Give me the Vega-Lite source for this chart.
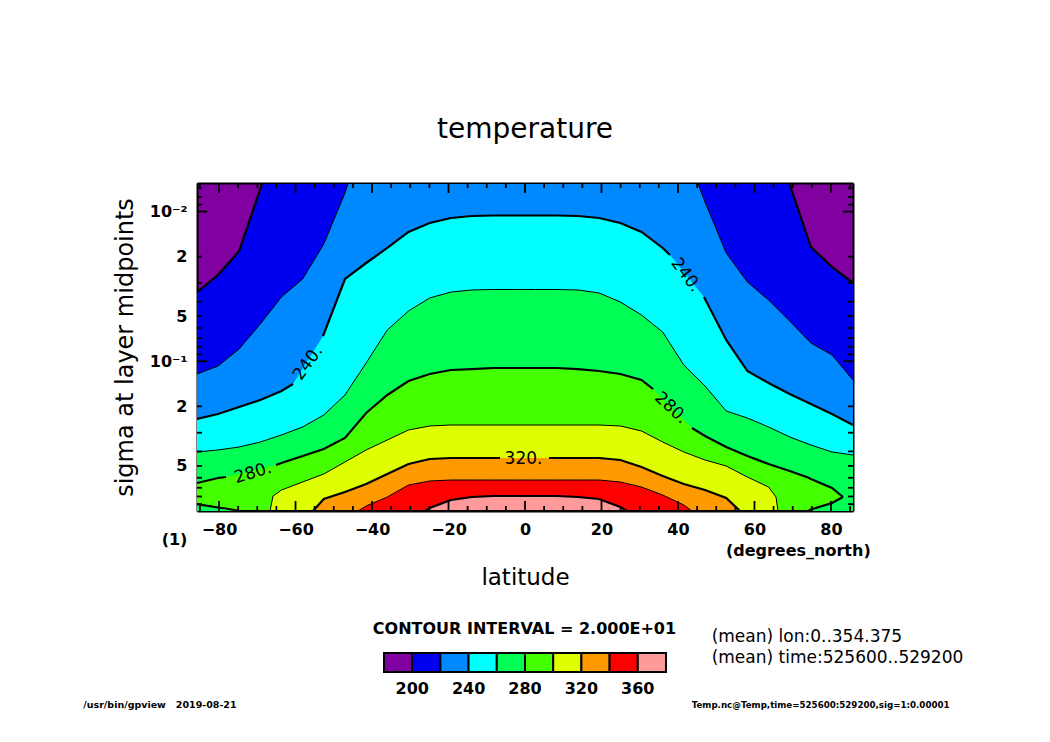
{
"$schema": "https://vega.github.io/schema/vega-lite/v6.json",
"width": 656, "height": 328,
"autosize": {"type": "none"},
"padding": {"left": 197, "top": 183, "right": 197, "bottom": 231},
"background": "white",
"config": {"view": {"fill": "#8000a0", "stroke": null}, "axis": {"grid": false}},
"title": {"text": "temperature", "font": "DejaVu Sans", "fontSize": 28, "fontWeight": "normal", "color": "black", "anchor": "middle", "baseline": "alphabetic", "offset": 16},
"datasets": {
"contours": [
{"lat": -85.76, "c": 200, "s": 0.0345}, {"lat": -80.27, "c": 200, "s": 0.02655}, {"lat": -74.75, "c": 200, "s": 0.01835}, {"lat": -69.21, "c": 200, "s": 0.00707}, {"lat": -68.69, "c": 200, "s": 0.00645}, {"lat": 69.1, "c": 200, "s": 0.00645}, {"lat": 74.75, "c": 200, "s": 0.01726}, {"lat": 80.27, "c": 200, "s": 0.02347}, {"lat": 85.76, "c": 200, "s": 0.03002},
{"lat": -85.76, "c": 220, "s": 0.1217}, {"lat": -80.27, "c": 220, "s": 0.1076}, {"lat": -74.75, "c": 220, "s": 0.0828}, {"lat": -69.21, "c": 220, "s": 0.05638}, {"lat": -63.68, "c": 220, "s": 0.03723}, {"lat": -58.14, "c": 220, "s": 0.02822}, {"lat": -52.61, "c": 220, "s": 0.01648}, {"lat": -47.07, "c": 220, "s": 0.00752}, {"lat": -46.2, "c": 220, "s": 0.00645}, {"lat": 45.15, "c": 220, "s": 0.00645}, {"lat": 47.07, "c": 220, "s": 0.008637}, {"lat": 52.61, "c": 220, "s": 0.01892}, {"lat": 58.14, "c": 220, "s": 0.02956}, {"lat": 63.68, "c": 220, "s": 0.03899}, {"lat": 69.21, "c": 220, "s": 0.05384}, {"lat": 74.75, "c": 220, "s": 0.07552}, {"lat": 80.27, "c": 220, "s": 0.0908}, {"lat": 85.76, "c": 220, "s": 0.1334},
{"lat": -85.76, "c": 240, "s": 0.243}, {"lat": -80.27, "c": 240, "s": 0.225}, {"lat": -74.75, "c": 240, "s": 0.202}, {"lat": -69.21, "c": 240, "s": 0.1814}, {"lat": -63.68, "c": 240, "s": 0.158}, {"lat": -60.66, "c": 240, "s": 0.1419},
{"lat": -52.81, "c": 240, "s": 0.06782, "seg": 1}, {"lat": -47.07, "c": 240, "s": 0.02822, "seg": 1}, {"lat": -41.53, "c": 240, "s": 0.02207, "seg": 1}, {"lat": -36.0, "c": 240, "s": 0.01752, "seg": 1}, {"lat": -30.46, "c": 240, "s": 0.0137, "seg": 1}, {"lat": -24.92, "c": 240, "s": 0.01193, "seg": 1}, {"lat": -19.38, "c": 240, "s": 0.01105, "seg": 1}, {"lat": -13.84, "c": 240, "s": 0.01071, "seg": 1}, {"lat": -8.31, "c": 240, "s": 0.01063, "seg": 1}, {"lat": -2.77, "c": 240, "s": 0.01063, "seg": 1}, {"lat": 2.77, "c": 240, "s": 0.01063, "seg": 1}, {"lat": 8.31, "c": 240, "s": 0.01063, "seg": 1}, {"lat": 13.84, "c": 240, "s": 0.01071, "seg": 1}, {"lat": 19.38, "c": 240, "s": 0.01105, "seg": 1}, {"lat": 24.92, "c": 240, "s": 0.01193, "seg": 1}, {"lat": 30.46, "c": 240, "s": 0.0137, "seg": 1}, {"lat": 36.0, "c": 240, "s": 0.01752, "seg": 1}, {"lat": 37.91, "c": 240, "s": 0.01951, "seg": 1},
{"lat": 46.8, "c": 240, "s": 0.03723, "seg": 2}, {"lat": 52.61, "c": 240, "s": 0.0721, "seg": 2}, {"lat": 58.14, "c": 240, "s": 0.1162, "seg": 2}, {"lat": 63.68, "c": 240, "s": 0.1397, "seg": 2}, {"lat": 69.21, "c": 240, "s": 0.1654, "seg": 2}, {"lat": 74.75, "c": 240, "s": 0.1929, "seg": 2}, {"lat": 80.27, "c": 240, "s": 0.225, "seg": 2}, {"lat": 85.76, "c": 240, "s": 0.2665, "seg": 2},
{"lat": -85.76, "c": 260, "s": 0.4036}, {"lat": -80.27, "c": 260, "s": 0.3914}, {"lat": -74.75, "c": 260, "s": 0.3738}, {"lat": -69.21, "c": 260, "s": 0.3461}, {"lat": -63.68, "c": 260, "s": 0.3107}, {"lat": -58.14, "c": 260, "s": 0.2748}, {"lat": -52.61, "c": 260, "s": 0.2285}, {"lat": -47.07, "c": 260, "s": 0.168}, {"lat": -41.53, "c": 260, "s": 0.1027}, {"lat": -36.0, "c": 260, "s": 0.06183}, {"lat": -30.46, "c": 260, "s": 0.04618}, {"lat": -24.92, "c": 260, "s": 0.0378}, {"lat": -19.38, "c": 260, "s": 0.0345}, {"lat": -13.84, "c": 260, "s": 0.03342}, {"lat": -8.31, "c": 260, "s": 0.03317}, {"lat": -2.77, "c": 260, "s": 0.03317}, {"lat": 2.77, "c": 260, "s": 0.03317}, {"lat": 8.31, "c": 260, "s": 0.03317}, {"lat": 13.84, "c": 260, "s": 0.03342}, {"lat": 19.38, "c": 260, "s": 0.035}, {"lat": 24.92, "c": 260, "s": 0.0402}, {"lat": 30.46, "c": 260, "s": 0.0491}, {"lat": 36.0, "c": 260, "s": 0.0638}, {"lat": 41.53, "c": 260, "s": 0.1059}, {"lat": 47.07, "c": 260, "s": 0.1463}, {"lat": 52.61, "c": 260, "s": 0.2149}, {"lat": 58.14, "c": 260, "s": 0.2393}, {"lat": 63.68, "c": 260, "s": 0.2748}, {"lat": 69.21, "c": 260, "s": 0.3204}, {"lat": 74.75, "c": 260, "s": 0.3624}, {"lat": 80.27, "c": 260, "s": 0.4036}, {"lat": 85.76, "c": 260, "s": 0.4227},
{"lat": -85.76, "c": 280, "s": 0.6502, "b": 0.8981}, {"lat": -80.27, "c": 280, "s": 0.6021, "b": 0.9476}, {"lat": -78.18, "c": 280, "s": 0.5928, "b": 0.9623},
{"lat": -74.75, "c": 280, "s": 0.5661, "b": 1, "seg": 9},
{"lat": -65.1, "c": 280, "s": 0.4929, "b": 1, "seg": 1}, {"lat": -63.68, "c": 280, "s": 0.478, "b": 1, "seg": 1}, {"lat": -58.14, "c": 280, "s": 0.4292, "b": 1, "seg": 1}, {"lat": -52.61, "c": 280, "s": 0.3854, "b": 1, "seg": 1}, {"lat": -47.07, "c": 280, "s": 0.3254, "b": 1, "seg": 1}, {"lat": -41.53, "c": 280, "s": 0.2216, "b": 1, "seg": 1}, {"lat": -36.0, "c": 280, "s": 0.168, "b": 1, "seg": 1}, {"lat": -30.46, "c": 280, "s": 0.1355, "b": 1, "seg": 1}, {"lat": -24.92, "c": 280, "s": 0.1217, "b": 1, "seg": 1}, {"lat": -19.38, "c": 280, "s": 0.1144, "b": 1, "seg": 1}, {"lat": -13.84, "c": 280, "s": 0.1127, "b": 1, "seg": 1}, {"lat": -8.31, "c": 280, "s": 0.1109, "b": 1, "seg": 1}, {"lat": -2.77, "c": 280, "s": 0.1109, "b": 1, "seg": 1}, {"lat": 2.77, "c": 280, "s": 0.1109, "b": 1, "seg": 1}, {"lat": 8.31, "c": 280, "s": 0.1109, "b": 1, "seg": 1}, {"lat": 13.84, "c": 280, "s": 0.1127, "b": 1, "seg": 1}, {"lat": 19.38, "c": 280, "s": 0.1162, "b": 1, "seg": 1}, {"lat": 24.92, "c": 280, "s": 0.1217, "b": 1, "seg": 1}, {"lat": 30.46, "c": 280, "s": 0.1334, "b": 1, "seg": 1}, {"lat": 33.47, "c": 280, "s": 0.1532, "b": 1, "seg": 1},
{"lat": 43.66, "c": 280, "s": 0.2791, "b": 1, "seg": 2}, {"lat": 47.07, "c": 280, "s": 0.3155, "b": 1, "seg": 2}, {"lat": 52.61, "c": 280, "s": 0.3738, "b": 1, "seg": 2}, {"lat": 58.14, "c": 280, "s": 0.4292, "b": 1, "seg": 2}, {"lat": 63.68, "c": 280, "s": 0.4854, "b": 1, "seg": 2}, {"lat": 69.21, "c": 280, "s": 0.5406, "b": 1, "seg": 2}, {"lat": 73.99, "c": 280, "s": 0.5975, "b": 1, "seg": 2}, {"lat": 74.75, "c": 280, "s": 0.6114, "b": 0.9772, "seg": 2}, {"lat": 80.27, "c": 280, "s": 0.7021, "b": 0.8842, "seg": 2}, {"lat": 83.14, "c": 280, "s": 0.8063, "b": 0.8063, "seg": 2},
{"lat": -66.67, "c": 300, "s": 1}, {"lat": -65.89, "c": 300, "s": 0.794}, {"lat": -63.68, "c": 300, "s": 0.7242}, {"lat": -58.14, "c": 300, "s": 0.6402}, {"lat": -52.61, "c": 300, "s": 0.5661}, {"lat": -47.07, "c": 300, "s": 0.4708}, {"lat": -41.53, "c": 300, "s": 0.3914}, {"lat": -36.0, "c": 300, "s": 0.3356}, {"lat": -30.46, "c": 300, "s": 0.2878}, {"lat": -24.92, "c": 300, "s": 0.2706}, {"lat": -19.38, "c": 300, "s": 0.2665}, {"lat": -13.84, "c": 300, "s": 0.2665}, {"lat": -8.31, "c": 300, "s": 0.2665}, {"lat": -2.77, "c": 300, "s": 0.2665}, {"lat": 2.77, "c": 300, "s": 0.2665}, {"lat": 8.31, "c": 300, "s": 0.2665}, {"lat": 13.84, "c": 300, "s": 0.2665}, {"lat": 19.38, "c": 300, "s": 0.2665}, {"lat": 24.92, "c": 300, "s": 0.2706}, {"lat": 30.46, "c": 300, "s": 0.2922}, {"lat": 36.0, "c": 300, "s": 0.3461}, {"lat": 41.53, "c": 300, "s": 0.4036}, {"lat": 47.07, "c": 300, "s": 0.4565}, {"lat": 52.61, "c": 300, "s": 0.5006}, {"lat": 58.14, "c": 300, "s": 0.5928}, {"lat": 63.68, "c": 300, "s": 0.6914}, {"lat": 65.63, "c": 300, "s": 0.8063}, {"lat": 66.15, "c": 300, "s": 1},
{"lat": -55.43, "c": 320, "s": 1}, {"lat": -52.61, "c": 320, "s": 0.8315}, {"lat": -47.07, "c": 320, "s": 0.7466}, {"lat": -41.53, "c": 320, "s": 0.6603}, {"lat": -36.0, "c": 320, "s": 0.5661}, {"lat": -30.46, "c": 320, "s": 0.4854}, {"lat": -24.92, "c": 320, "s": 0.4495}, {"lat": -19.38, "c": 320, "s": 0.4427}, {"lat": -13.84, "c": 320, "s": 0.4427}, {"lat": -8.31, "c": 320, "s": 0.4427}, {"lat": -6.54, "c": 320, "s": 0.4427},
{"lat": 6.27, "c": 320, "s": 0.4427, "seg": 1}, {"lat": 8.31, "c": 320, "s": 0.4427, "seg": 1}, {"lat": 13.84, "c": 320, "s": 0.4427, "seg": 1}, {"lat": 19.38, "c": 320, "s": 0.4427, "seg": 1}, {"lat": 24.92, "c": 320, "s": 0.4565, "seg": 1}, {"lat": 30.46, "c": 320, "s": 0.5084, "seg": 1}, {"lat": 36.0, "c": 320, "s": 0.5839, "seg": 1}, {"lat": 41.53, "c": 320, "s": 0.6603, "seg": 1}, {"lat": 47.07, "c": 320, "s": 0.7242, "seg": 1}, {"lat": 52.61, "c": 320, "s": 0.8189, "seg": 1}, {"lat": 56.21, "c": 320, "s": 1, "seg": 1},
{"lat": -43.66, "c": 340, "s": 1}, {"lat": -41.53, "c": 340, "s": 0.926}, {"lat": -36.0, "c": 340, "s": 0.8063}, {"lat": -30.46, "c": 340, "s": 0.6706}, {"lat": -24.92, "c": 340, "s": 0.6306}, {"lat": -19.38, "c": 340, "s": 0.6209}, {"lat": -13.84, "c": 340, "s": 0.6209}, {"lat": -8.31, "c": 340, "s": 0.6209}, {"lat": -2.77, "c": 340, "s": 0.6209}, {"lat": 2.77, "c": 340, "s": 0.6209}, {"lat": 8.31, "c": 340, "s": 0.6209}, {"lat": 13.84, "c": 340, "s": 0.6209}, {"lat": 19.38, "c": 340, "s": 0.6209}, {"lat": 24.92, "c": 340, "s": 0.6402}, {"lat": 30.46, "c": 340, "s": 0.6914}, {"lat": 36.0, "c": 340, "s": 0.7822}, {"lat": 41.53, "c": 340, "s": 0.9117}, {"lat": 43.66, "c": 340, "s": 1},
{"lat": -26.15, "c": 360, "s": 1}, {"lat": -24.92, "c": 360, "s": 0.955}, {"lat": -19.38, "c": 360, "s": 0.8443}, {"lat": -13.84, "c": 360, "s": 0.8063}, {"lat": -8.31, "c": 360, "s": 0.794}, {"lat": -2.77, "c": 360, "s": 0.794}, {"lat": 2.77, "c": 360, "s": 0.794}, {"lat": 8.31, "c": 360, "s": 0.794}, {"lat": 13.84, "c": 360, "s": 0.8063}, {"lat": 19.38, "c": 360, "s": 0.8315}, {"lat": 24.92, "c": 360, "s": 0.9404}, {"lat": 26.67, "c": 360, "s": 1}
],
"labels": [
{"lat": -56.74, "s": 0.1027, "t": "240."},
{"lat": 42.09, "s": 0.02655, "t": "240."},
{"lat": -71.12, "s": 0.5575, "t": "280."},
{"lat": 38.17, "s": 0.2051, "t": "280."},
{"lat": -0.39, "s": 0.4461, "t": "320."}
],
"xmaj": [{"v": -80}, {"v": -60}, {"v": -40}, {"v": -20}, {"v": 0}, {"v": 20}, {"v": 40}, {"v": 60}, {"v": 80}],
"xmin": [{"v": -85}, {"v": -75}, {"v": -70}, {"v": -65}, {"v": -55}, {"v": -50}, {"v": -45}, {"v": -35}, {"v": -30}, {"v": -25}, {"v": -15}, {"v": -10}, {"v": -5}, {"v": 5}, {"v": 10}, {"v": 15}, {"v": 25}, {"v": 30}, {"v": 35}, {"v": 45}, {"v": 50}, {"v": 55}, {"v": 65}, {"v": 70}, {"v": 75}, {"v": 85}],
"ymaj": [{"v": 0.01}, {"v": 0.1}],
"ymin": [{"v": 0.007}, {"v": 0.008}, {"v": 0.009}, {"v": 0.02}, {"v": 0.03}, {"v": 0.04}, {"v": 0.05}, {"v": 0.06}, {"v": 0.07}, {"v": 0.08}, {"v": 0.09}, {"v": 0.2}, {"v": 0.3}, {"v": 0.4}, {"v": 0.5}, {"v": 0.6}, {"v": 0.7}, {"v": 0.8}, {"v": 0.9}]
},
"resolve": {"axis": {"x": "independent", "y": "independent"}},
"layer": [
{"data": {"name": "contours"}, "transform": [{"filter": "datum.c == 200"}], "mark": {"type": "area", "clip": true},
 "encoding": {
  "x": {"field": "lat", "type": "quantitative", "scale": {"domain": [-85.761, 85.761], "nice": false, "zero": false},
   "axis": {"orient": "bottom", "values": [-80, -60, -40, -20, 0, 20, 40, 60, 80], "format": "d", "ticks": false, "domain": false, "grid": false, "labelFont": "DejaVu Sans", "labelFontSize": 16, "labelFontWeight": "bold", "labelColor": "black", "labelPadding": 10, "labelFlush": false, "labelOverlap": false, "title": "latitude", "titleFont": "DejaVu Sans", "titleFontSize": 23, "titleFontWeight": "normal", "titleColor": "black", "titlePadding": 29}},
  "y": {"field": "s", "type": "quantitative", "scale": {"type": "log", "domain": [0.00645, 1], "reverse": true, "nice": false},
   "axis": {"orient": "left", "values": [0.01, 0.02, 0.05, 0.1, 0.2, 0.5], "labelExpr": "datum.value < 0.015 ? '10⁻²' : datum.value < 0.06 ? format(round(datum.value*100), 'd') : datum.value < 0.15 ? '10⁻¹' : format(round(datum.value*10), 'd')", "ticks": false, "domain": false, "grid": false, "labelFont": "DejaVu Sans", "labelFontSize": 16, "labelFontWeight": "bold", "labelColor": "black", "labelPadding": 10, "labelFlush": false, "labelOverlap": false, "title": "sigma at layer midpoints", "titleFont": "DejaVu Sans", "titleFontSize": 24, "titleFontWeight": "normal", "titleColor": "black", "titlePadding": 12}},
  "y2": {"datum": 1},
  "color": {"field": "c", "type": "quantitative", "scale": {"type": "threshold", "domain": [200, 220, 240, 260, 280, 300, 320, 340, 360], "range": ["#8000a0", "#0000f0", "#0088ff", "#00ffff", "#00ff55", "#44ff00", "#ddff00", "#ff9900", "#ff0000", "#ff9a9a"]},
   "legend": {"type": "gradient", "orient": "none", "legendX": 187, "legendY": 470, "direction": "horizontal", "title": null, "gradientLength": 282, "gradientThickness": 19, "gradientStrokeColor": "black", "gradientStrokeWidth": 2, "labelFont": "DejaVu Sans", "labelFontSize": 16, "labelFontWeight": "bold", "labelColor": "black", "labelOffset": 9, "labelExpr": "datum.value % 40 === 0 ? datum.label : ''", "format": "d", "labelOverlap": false, "padding": 0}}
 }},
{"data": {"name": "contours"}, "transform": [{"filter": "datum.c == 220"}], "mark": {"type": "area", "clip": true},
 "encoding": {
  "x": {"field": "lat", "type": "quantitative", "scale": {"domain": [-85.761, 85.761], "nice": false, "zero": false},
   "axis": {"orient": "top", "offset": -328, "labels": false, "grid": false, "title": null, "domain": true, "domainColor": "black", "domainWidth": 2, "ticks": false}},
  "y": {"field": "s", "type": "quantitative", "scale": {"type": "log", "domain": [0.00645, 1], "reverse": true, "nice": false},
   "axis": {"orient": "right", "offset": -656, "labels": false, "grid": false, "title": null, "domain": true, "domainColor": "black", "domainWidth": 2, "ticks": false}},
  "y2": {"datum": 1},
  "color": {"field": "c", "type": "quantitative", "scale": {"type": "threshold", "domain": [200, 220, 240, 260, 280, 300, 320, 340, 360], "range": ["#8000a0", "#0000f0", "#0088ff", "#00ffff", "#00ff55", "#44ff00", "#ddff00", "#ff9900", "#ff0000", "#ff9a9a"]},
   "legend": {"type": "gradient", "orient": "none", "legendX": 187, "legendY": 470, "direction": "horizontal", "title": null, "gradientLength": 282, "gradientThickness": 19, "gradientStrokeColor": "black", "gradientStrokeWidth": 2, "labelFont": "DejaVu Sans", "labelFontSize": 16, "labelFontWeight": "bold", "labelColor": "black", "labelOffset": 9, "labelExpr": "datum.value % 40 === 0 ? datum.label : ''", "format": "d", "labelOverlap": false, "padding": 0}}
 }},
{"data": {"name": "contours"}, "transform": [{"filter": "datum.c == 240"}], "mark": {"type": "area", "clip": true},
 "encoding": {
  "x": {"field": "lat", "type": "quantitative", "scale": {"domain": [-85.761, 85.761], "nice": false, "zero": false},
   "axis": {"orient": "bottom", "offset": -328, "labels": false, "grid": false, "title": null, "domain": true, "domainColor": "black", "domainWidth": 2, "ticks": false}},
  "y": {"field": "s", "type": "quantitative", "scale": {"type": "log", "domain": [0.00645, 1], "reverse": true, "nice": false},
   "axis": {"orient": "left", "offset": -656, "labels": false, "grid": false, "title": null, "domain": true, "domainColor": "black", "domainWidth": 2, "ticks": false}},
  "y2": {"datum": 1},
  "color": {"field": "c", "type": "quantitative", "scale": {"type": "threshold", "domain": [200, 220, 240, 260, 280, 300, 320, 340, 360], "range": ["#8000a0", "#0000f0", "#0088ff", "#00ffff", "#00ff55", "#44ff00", "#ddff00", "#ff9900", "#ff0000", "#ff9a9a"]},
   "legend": {"type": "gradient", "orient": "none", "legendX": 187, "legendY": 470, "direction": "horizontal", "title": null, "gradientLength": 282, "gradientThickness": 19, "gradientStrokeColor": "black", "gradientStrokeWidth": 2, "labelFont": "DejaVu Sans", "labelFontSize": 16, "labelFontWeight": "bold", "labelColor": "black", "labelOffset": 9, "labelExpr": "datum.value % 40 === 0 ? datum.label : ''", "format": "d", "labelOverlap": false, "padding": 0}}
 }},
{"data": {"name": "contours"}, "transform": [{"filter": "datum.c == 260"}], "mark": {"type": "area", "clip": true},
 "encoding": {
  "x": {"field": "lat", "type": "quantitative", "scale": {"domain": [-85.761, 85.761], "nice": false, "zero": false}, "axis": null},
  "y": {"field": "s", "type": "quantitative", "scale": {"type": "log", "domain": [0.00645, 1], "reverse": true, "nice": false}, "axis": null},
  "y2": {"datum": 1},
  "color": {"field": "c", "type": "quantitative", "scale": {"type": "threshold", "domain": [200, 220, 240, 260, 280, 300, 320, 340, 360], "range": ["#8000a0", "#0000f0", "#0088ff", "#00ffff", "#00ff55", "#44ff00", "#ddff00", "#ff9900", "#ff0000", "#ff9a9a"]},
   "legend": {"type": "gradient", "orient": "none", "legendX": 187, "legendY": 470, "direction": "horizontal", "title": null, "gradientLength": 282, "gradientThickness": 19, "gradientStrokeColor": "black", "gradientStrokeWidth": 2, "labelFont": "DejaVu Sans", "labelFontSize": 16, "labelFontWeight": "bold", "labelColor": "black", "labelOffset": 9, "labelExpr": "datum.value % 40 === 0 ? datum.label : ''", "format": "d", "labelOverlap": false, "padding": 0}}
 }},
{"data": {"name": "contours"}, "transform": [{"filter": "datum.c == 280"}], "mark": {"type": "area", "clip": true},
 "encoding": {
  "x": {"field": "lat", "type": "quantitative", "scale": {"domain": [-85.761, 85.761], "nice": false, "zero": false}, "axis": null},
  "y": {"field": "s", "type": "quantitative", "scale": {"type": "log", "domain": [0.00645, 1], "reverse": true, "nice": false}, "axis": null},
  "y2": {"field": "b"},
  "color": {"field": "c", "type": "quantitative", "scale": {"type": "threshold", "domain": [200, 220, 240, 260, 280, 300, 320, 340, 360], "range": ["#8000a0", "#0000f0", "#0088ff", "#00ffff", "#00ff55", "#44ff00", "#ddff00", "#ff9900", "#ff0000", "#ff9a9a"]},
   "legend": {"type": "gradient", "orient": "none", "legendX": 187, "legendY": 470, "direction": "horizontal", "title": null, "gradientLength": 282, "gradientThickness": 19, "gradientStrokeColor": "black", "gradientStrokeWidth": 2, "labelFont": "DejaVu Sans", "labelFontSize": 16, "labelFontWeight": "bold", "labelColor": "black", "labelOffset": 9, "labelExpr": "datum.value % 40 === 0 ? datum.label : ''", "format": "d", "labelOverlap": false, "padding": 0}}
 }},
{"data": {"name": "contours"}, "transform": [{"filter": "datum.c == 300"}], "mark": {"type": "area", "clip": true},
 "encoding": {
  "x": {"field": "lat", "type": "quantitative", "scale": {"domain": [-85.761, 85.761], "nice": false, "zero": false}, "axis": null},
  "y": {"field": "s", "type": "quantitative", "scale": {"type": "log", "domain": [0.00645, 1], "reverse": true, "nice": false}, "axis": null},
  "y2": {"datum": 1},
  "color": {"field": "c", "type": "quantitative", "scale": {"type": "threshold", "domain": [200, 220, 240, 260, 280, 300, 320, 340, 360], "range": ["#8000a0", "#0000f0", "#0088ff", "#00ffff", "#00ff55", "#44ff00", "#ddff00", "#ff9900", "#ff0000", "#ff9a9a"]},
   "legend": {"type": "gradient", "orient": "none", "legendX": 187, "legendY": 470, "direction": "horizontal", "title": null, "gradientLength": 282, "gradientThickness": 19, "gradientStrokeColor": "black", "gradientStrokeWidth": 2, "labelFont": "DejaVu Sans", "labelFontSize": 16, "labelFontWeight": "bold", "labelColor": "black", "labelOffset": 9, "labelExpr": "datum.value % 40 === 0 ? datum.label : ''", "format": "d", "labelOverlap": false, "padding": 0}}
 }},
{"data": {"name": "contours"}, "transform": [{"filter": "datum.c == 320"}], "mark": {"type": "area", "clip": true},
 "encoding": {
  "x": {"field": "lat", "type": "quantitative", "scale": {"domain": [-85.761, 85.761], "nice": false, "zero": false}, "axis": null},
  "y": {"field": "s", "type": "quantitative", "scale": {"type": "log", "domain": [0.00645, 1], "reverse": true, "nice": false}, "axis": null},
  "y2": {"datum": 1},
  "color": {"field": "c", "type": "quantitative", "scale": {"type": "threshold", "domain": [200, 220, 240, 260, 280, 300, 320, 340, 360], "range": ["#8000a0", "#0000f0", "#0088ff", "#00ffff", "#00ff55", "#44ff00", "#ddff00", "#ff9900", "#ff0000", "#ff9a9a"]},
   "legend": {"type": "gradient", "orient": "none", "legendX": 187, "legendY": 470, "direction": "horizontal", "title": null, "gradientLength": 282, "gradientThickness": 19, "gradientStrokeColor": "black", "gradientStrokeWidth": 2, "labelFont": "DejaVu Sans", "labelFontSize": 16, "labelFontWeight": "bold", "labelColor": "black", "labelOffset": 9, "labelExpr": "datum.value % 40 === 0 ? datum.label : ''", "format": "d", "labelOverlap": false, "padding": 0}}
 }},
{"data": {"name": "contours"}, "transform": [{"filter": "datum.c == 340"}], "mark": {"type": "area", "clip": true},
 "encoding": {
  "x": {"field": "lat", "type": "quantitative", "scale": {"domain": [-85.761, 85.761], "nice": false, "zero": false}, "axis": null},
  "y": {"field": "s", "type": "quantitative", "scale": {"type": "log", "domain": [0.00645, 1], "reverse": true, "nice": false}, "axis": null},
  "y2": {"datum": 1},
  "color": {"field": "c", "type": "quantitative", "scale": {"type": "threshold", "domain": [200, 220, 240, 260, 280, 300, 320, 340, 360], "range": ["#8000a0", "#0000f0", "#0088ff", "#00ffff", "#00ff55", "#44ff00", "#ddff00", "#ff9900", "#ff0000", "#ff9a9a"]},
   "legend": {"type": "gradient", "orient": "none", "legendX": 187, "legendY": 470, "direction": "horizontal", "title": null, "gradientLength": 282, "gradientThickness": 19, "gradientStrokeColor": "black", "gradientStrokeWidth": 2, "labelFont": "DejaVu Sans", "labelFontSize": 16, "labelFontWeight": "bold", "labelColor": "black", "labelOffset": 9, "labelExpr": "datum.value % 40 === 0 ? datum.label : ''", "format": "d", "labelOverlap": false, "padding": 0}}
 }},
{"data": {"name": "contours"}, "transform": [{"filter": "datum.c == 360"}], "mark": {"type": "area", "clip": true},
 "encoding": {
  "x": {"field": "lat", "type": "quantitative", "scale": {"domain": [-85.761, 85.761], "nice": false, "zero": false}, "axis": null},
  "y": {"field": "s", "type": "quantitative", "scale": {"type": "log", "domain": [0.00645, 1], "reverse": true, "nice": false}, "axis": null},
  "y2": {"datum": 1},
  "color": {"field": "c", "type": "quantitative", "scale": {"type": "threshold", "domain": [200, 220, 240, 260, 280, 300, 320, 340, 360], "range": ["#8000a0", "#0000f0", "#0088ff", "#00ffff", "#00ff55", "#44ff00", "#ddff00", "#ff9900", "#ff0000", "#ff9a9a"]},
   "legend": {"type": "gradient", "orient": "none", "legendX": 187, "legendY": 470, "direction": "horizontal", "title": null, "gradientLength": 282, "gradientThickness": 19, "gradientStrokeColor": "black", "gradientStrokeWidth": 2, "labelFont": "DejaVu Sans", "labelFontSize": 16, "labelFontWeight": "bold", "labelColor": "black", "labelOffset": 9, "labelExpr": "datum.value % 40 === 0 ? datum.label : ''", "format": "d", "labelOverlap": false, "padding": 0}}
 }},
{"data": {"name": "contours"}, "mark": {"type": "line", "color": "black", "clip": true},
 "encoding": {
  "x": {"field": "lat", "type": "quantitative", "scale": {"domain": [-85.761, 85.761], "nice": false, "zero": false}, "axis": null},
  "y": {"field": "s", "type": "quantitative", "scale": {"type": "log", "domain": [0.00645, 1], "reverse": true, "nice": false}, "axis": null},
  "detail": [{"field": "c", "type": "nominal"}, {"field": "seg", "type": "nominal"}],
  "strokeWidth": {"condition": {"test": "datum.c % 40 === 0", "value": 2.2}, "value": 1}
 }},
{"data": {"name": "contours"}, "transform": [{"filter": "datum.c == 280"}], "mark": {"type": "line", "color": "black", "clip": true, "strokeWidth": 2.2},
 "encoding": {
  "x": {"field": "lat", "type": "quantitative", "scale": {"domain": [-85.761, 85.761], "nice": false, "zero": false}, "axis": null},
  "y": {"field": "b", "type": "quantitative", "scale": {"type": "log", "domain": [0.00645, 1], "reverse": true, "nice": false}, "axis": null}
 }},
{"data": {"name": "labels"}, "transform": [{"filter": "datum.lat < -60"}], "mark": {"type": "text", "font": "DejaVu Sans", "fontSize": 17, "color": "black", "align": "center", "baseline": "middle", "angle": 343},
 "encoding": {"x": {"field": "lat", "type": "quantitative", "scale": {"domain": [-85.761, 85.761], "nice": false, "zero": false}, "axis": null}, "y": {"field": "s", "type": "quantitative", "scale": {"type": "log", "domain": [0.00645, 1], "reverse": true, "nice": false}, "axis": null}, "text": {"field": "t"}}},
{"data": {"name": "labels"}, "transform": [{"filter": "datum.lat > -60 && datum.lat < -30"}], "mark": {"type": "text", "font": "DejaVu Sans", "fontSize": 17, "color": "black", "align": "center", "baseline": "middle", "angle": 306},
 "encoding": {"x": {"field": "lat", "type": "quantitative", "scale": {"domain": [-85.761, 85.761], "nice": false, "zero": false}, "axis": null}, "y": {"field": "s", "type": "quantitative", "scale": {"type": "log", "domain": [0.00645, 1], "reverse": true, "nice": false}, "axis": null}, "text": {"field": "t"}}},
{"data": {"name": "labels"}, "transform": [{"filter": "datum.lat > -5 && datum.lat < 5"}], "mark": {"type": "text", "font": "DejaVu Sans", "fontSize": 17, "color": "black", "align": "center", "baseline": "middle", "angle": 0},
 "encoding": {"x": {"field": "lat", "type": "quantitative", "scale": {"domain": [-85.761, 85.761], "nice": false, "zero": false}, "axis": null}, "y": {"field": "s", "type": "quantitative", "scale": {"type": "log", "domain": [0.00645, 1], "reverse": true, "nice": false}, "axis": null}, "text": {"field": "t"}}},
{"data": {"name": "labels"}, "transform": [{"filter": "datum.lat > 30 && datum.lat < 40"}], "mark": {"type": "text", "font": "DejaVu Sans", "fontSize": 17, "color": "black", "align": "center", "baseline": "middle", "angle": 43},
 "encoding": {"x": {"field": "lat", "type": "quantitative", "scale": {"domain": [-85.761, 85.761], "nice": false, "zero": false}, "axis": null}, "y": {"field": "s", "type": "quantitative", "scale": {"type": "log", "domain": [0.00645, 1], "reverse": true, "nice": false}, "axis": null}, "text": {"field": "t"}}},
{"data": {"name": "labels"}, "transform": [{"filter": "datum.lat > 40"}], "mark": {"type": "text", "font": "DejaVu Sans", "fontSize": 17, "color": "black", "align": "center", "baseline": "middle", "angle": 53},
 "encoding": {"x": {"field": "lat", "type": "quantitative", "scale": {"domain": [-85.761, 85.761], "nice": false, "zero": false}, "axis": null}, "y": {"field": "s", "type": "quantitative", "scale": {"type": "log", "domain": [0.00645, 1], "reverse": true, "nice": false}, "axis": null}, "text": {"field": "t"}}},
{"data": {"values": [{}]}, "mark": {"type": "text", "text": "(degrees_north)", "font": "DejaVu Sans", "fontSize": 16, "fontWeight": "bold", "color": "black", "align": "right", "baseline": "middle"},
 "encoding": {"x": {"datum": 90.39, "type": "quantitative", "scale": {"domain": [-85.761, 85.761], "nice": false, "zero": false}, "axis": null}, "y": {"datum": 1.85, "type": "quantitative", "scale": {"type": "log", "domain": [0.00645, 1], "reverse": true, "nice": false}, "axis": null}}},
{"data": {"values": [{}]}, "mark": {"type": "text", "text": "(1)", "font": "DejaVu Sans", "fontSize": 16, "fontWeight": "bold", "color": "black", "align": "center", "baseline": "middle"},
 "encoding": {"x": {"datum": -91.64, "type": "quantitative", "scale": {"domain": [-85.761, 85.761], "nice": false, "zero": false}, "axis": null}, "y": {"datum": 1.562, "type": "quantitative", "scale": {"type": "log", "domain": [0.00645, 1], "reverse": true, "nice": false}, "axis": null}}},
{"data": {"values": [{}]}, "mark": {"type": "text", "text": "CONTOUR INTERVAL = 2.000E+01", "font": "DejaVu Sans", "fontSize": 16, "fontWeight": "bold", "color": "black", "align": "center", "baseline": "middle"},
 "encoding": {"x": {"datum": -0.13, "type": "quantitative", "scale": {"domain": [-85.761, 85.761], "nice": false, "zero": false}, "axis": null}, "y": {"datum": 6.15, "type": "quantitative", "scale": {"type": "log", "domain": [0.00645, 1], "reverse": true, "nice": false}, "axis": null}}},
{"data": {"values": [{}]}, "mark": {"type": "text", "text": "(mean) lon:0..354.375", "font": "DejaVu Sans", "fontSize": 17, "color": "black", "align": "left", "baseline": "middle"},
 "encoding": {"x": {"datum": 48.81, "type": "quantitative", "scale": {"domain": [-85.761, 85.761], "nice": false, "zero": false}, "axis": null}, "y": {"datum": 6.94, "type": "quantitative", "scale": {"type": "log", "domain": [0.00645, 1], "reverse": true, "nice": false}, "axis": null}}},
{"data": {"values": [{}]}, "mark": {"type": "text", "text": "(mean) time:525600..529200", "font": "DejaVu Sans", "fontSize": 17, "color": "black", "align": "left", "baseline": "middle"},
 "encoding": {"x": {"datum": 48.81, "type": "quantitative", "scale": {"domain": [-85.761, 85.761], "nice": false, "zero": false}, "axis": null}, "y": {"datum": 9.632, "type": "quantitative", "scale": {"type": "log", "domain": [0.00645, 1], "reverse": true, "nice": false}, "axis": null}}},
{"data": {"values": [{}]}, "mark": {"type": "text", "text": "/usr/bin/gpview\u00a0\u00a0\u00a02019-08-21", "font": "DejaVu Sans", "fontSize": 9.5, "fontWeight": "bold", "color": "black", "align": "left", "baseline": "middle"},
 "encoding": {"x": {"datum": -115.49, "type": "quantitative", "scale": {"domain": [-85.761, 85.761], "nice": false, "zero": false}, "axis": null}, "y": {"datum": 19.75, "type": "quantitative", "scale": {"type": "log", "domain": [0.00645, 1], "reverse": true, "nice": false}, "axis": null}}},
{"data": {"values": [{}]}, "mark": {"type": "text", "text": "Temp.nc@Temp,time=525600:529200,sig=1:0.00001", "font": "DejaVu Sans", "fontSize": 8.7, "fontWeight": "bold", "color": "black", "align": "left", "baseline": "middle"},
 "encoding": {"x": {"datum": 43.58, "type": "quantitative", "scale": {"domain": [-85.761, 85.761], "nice": false, "zero": false}, "axis": null}, "y": {"datum": 19.75, "type": "quantitative", "scale": {"type": "log", "domain": [0.00645, 1], "reverse": true, "nice": false}, "axis": null}}},
{"data": {"name": "xmaj"}, "mark": {"type": "rule", "color": "black", "strokeWidth": 1.8},
 "encoding": {
  "x": {"field": "v", "type": "quantitative", "scale": {"domain": [-85.761, 85.761], "nice": false, "zero": false}, "axis": null},
  "y": {"datum": 1, "type": "quantitative", "scale": {"type": "log", "domain": [0.00645, 1], "reverse": true, "nice": false}, "axis": null},
  "y2": {"datum": 0.8574}
 }},
{"data": {"name": "xmin"}, "mark": {"type": "rule", "color": "black", "strokeWidth": 1.8},
 "encoding": {
  "x": {"field": "v", "type": "quantitative", "scale": {"domain": [-85.761, 85.761], "nice": false, "zero": false}, "axis": null},
  "y": {"datum": 1, "type": "quantitative", "scale": {"type": "log", "domain": [0.00645, 1], "reverse": true, "nice": false}, "axis": null},
  "y2": {"datum": 0.926}
 }},
{"data": {"name": "xmaj"}, "mark": {"type": "rule", "color": "black", "strokeWidth": 1.8},
 "encoding": {
  "x": {"field": "v", "type": "quantitative", "scale": {"domain": [-85.761, 85.761], "nice": false, "zero": false}, "axis": null},
  "y": {"datum": 0.00645, "type": "quantitative", "scale": {"type": "log", "domain": [0.00645, 1], "reverse": true, "nice": false}, "axis": null},
  "y2": {"datum": 0.007522}
 }},
{"data": {"name": "xmin"}, "mark": {"type": "rule", "color": "black", "strokeWidth": 1.8},
 "encoding": {
  "x": {"field": "v", "type": "quantitative", "scale": {"domain": [-85.761, 85.761], "nice": false, "zero": false}, "axis": null},
  "y": {"datum": 0.00645, "type": "quantitative", "scale": {"type": "log", "domain": [0.00645, 1], "reverse": true, "nice": false}, "axis": null},
  "y2": {"datum": 0.006966}
 }},
{"data": {"name": "ymaj"}, "mark": {"type": "rule", "color": "black", "strokeWidth": 1.8},
 "encoding": {
  "y": {"field": "v", "type": "quantitative", "scale": {"type": "log", "domain": [0.00645, 1], "reverse": true, "nice": false}, "axis": null},
  "x": {"datum": -85.761, "type": "quantitative", "scale": {"domain": [-85.761, 85.761], "nice": false, "zero": false}, "axis": null},
  "x2": {"datum": -83.146}
 }},
{"data": {"name": "ymin"}, "mark": {"type": "rule", "color": "black", "strokeWidth": 1.8},
 "encoding": {
  "y": {"field": "v", "type": "quantitative", "scale": {"type": "log", "domain": [0.00645, 1], "reverse": true, "nice": false}, "axis": null},
  "x": {"datum": -85.761, "type": "quantitative", "scale": {"domain": [-85.761, 85.761], "nice": false, "zero": false}, "axis": null},
  "x2": {"datum": -84.454}
 }},
{"data": {"name": "ymaj"}, "mark": {"type": "rule", "color": "black", "strokeWidth": 1.8},
 "encoding": {
  "y": {"field": "v", "type": "quantitative", "scale": {"type": "log", "domain": [0.00645, 1], "reverse": true, "nice": false}, "axis": null},
  "x": {"datum": 85.761, "type": "quantitative", "scale": {"domain": [-85.761, 85.761], "nice": false, "zero": false}, "axis": null},
  "x2": {"datum": 83.146}
 }},
{"data": {"name": "ymin"}, "mark": {"type": "rule", "color": "black", "strokeWidth": 1.8},
 "encoding": {
  "y": {"field": "v", "type": "quantitative", "scale": {"type": "log", "domain": [0.00645, 1], "reverse": true, "nice": false}, "axis": null},
  "x": {"datum": 85.761, "type": "quantitative", "scale": {"domain": [-85.761, 85.761], "nice": false, "zero": false}, "axis": null},
  "x2": {"datum": 84.454}
 }}
]
}
